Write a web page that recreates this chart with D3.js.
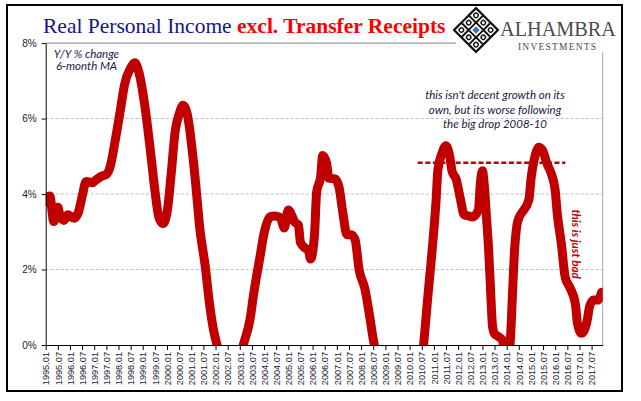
<!DOCTYPE html>
<html><head><meta charset="utf-8">
<script src="https://cdn.jsdelivr.net/npm/d3@7"></script>
<style>body{margin:0;background:#fff} svg{display:block}</style>
</head><body>
<svg id="chart" width="641" height="401"></svg>
<script>
// ---- data ----
const months = ["1995.01","1995.03","1995.05","1995.07","1995.08","1995.10","1995.12","1996.03","1996.05","1996.07","1996.09","1996.12",
"1997.02","1997.05","1997.07","1997.09","1997.11","1998.02","1998.04","1998.07","1998.09","1998.11","1999.02","1999.05","1999.07","1999.09","1999.11",
"2000.01","2000.03","2000.05","2000.07","2000.09","2000.11","2001.02","2001.04","2001.05","2001.08","2001.10","2001.12","2002.02","2002.05","2002.09","2002.12",
"2003.03","2003.06","2003.08","2003.11","2004.01","2004.04","2004.06","2004.09","2004.11","2005.01","2005.03","2005.04","2005.06","2005.07","2005.09","2005.11","2005.12",
"2006.02","2006.03","2006.05","2006.06","2006.08","2006.09","2006.12","2007.02","2007.04","2007.06","2007.08","2007.10","2007.12","2008.03","2008.05","2008.07","2008.09",
"2009.01","2009.05","2009.11","2010.04","2010.08","2010.10","2010.12","2011.02","2011.03","2011.05","2011.07","2011.09","2011.10","2011.12",
"2012.02","2012.04","2012.06","2012.08","2012.11","2012.12","2013.01","2013.02","2013.03","2013.04","2013.05","2013.06","2013.07","2013.09","2013.11","2013.12",
"2014.02","2014.03","2014.04","2014.05","2014.06","2014.07","2014.09","2014.12","2015.01","2015.03","2015.05","2015.07","2015.09","2015.11",
"2016.01","2016.02","2016.04","2016.06","2016.08","2016.11","2016.12","2017.02","2017.03","2017.05","2017.06","2017.08","2017.10","2017.12"];
const values = [3.80,3.95,3.27,3.65,3.45,3.30,3.45,3.36,3.49,3.93,4.33,4.30,
4.38,4.48,4.52,4.75,5.30,6.25,6.90,7.34,7.48,7.25,6.35,5.05,4.10,3.38,3.22,
3.50,4.50,5.65,6.12,6.35,6.12,4.90,3.80,3.20,2.05,1.10,0.40,-0.05,-0.6,-0.9,-0.6,
0.05,0.66,1.40,2.34,2.96,3.40,3.42,3.38,3.10,3.58,3.40,3.27,3.18,2.72,2.58,2.50,2.28,
2.96,4.05,4.46,5.02,4.80,4.42,4.40,4.20,3.49,2.92,2.92,2.80,2.00,1.46,0.84,0.15,-0.4,
-2.5,-4.5,-4.0,-1.8,0.05,1.28,2.43,3.76,4.64,5.08,5.28,4.95,4.60,4.40,
3.90,3.45,3.42,3.39,3.58,4.30,4.62,4.20,3.40,2.60,1.50,0.50,0.30,0.22,0.12,-0.30,
-0.30,0.30,1.50,2.60,3.15,3.36,3.54,3.85,4.38,5.00,5.24,5.13,4.80,4.55,
4.10,3.49,2.70,1.78,1.55,1.08,0.58,0.31,0.35,0.70,1.02,1.19,1.19,1.40];
const tickLabels = ["1995.01","1995.07","1996.01","1996.07","1997.01","1997.07","1998.01","1998.07","1999.01","1999.07",
"2000.01","2000.07","2001.01","2001.07","2002.01","2002.07","2003.01","2003.07","2004.01","2004.07",
"2005.01","2005.07","2006.01","2006.07","2007.01","2007.07","2008.01","2008.07","2009.01","2009.07",
"2010.01","2010.07","2011.01","2011.07","2012.01","2012.07","2013.01","2013.07","2014.01","2014.07",
"2015.01","2015.07","2016.01","2016.07","2017.01","2017.07"];
const yTicks = [0,2,4,6,8];
const refStart = "2010.05", refEnd = "2016.06", refLevel = 4.83;
const noteLines = ["this isn't decent growth on its","own, but its worse following","the big drop  2008-10"];
const unitLines = ["Y/Y % change","6-month MA"];

// ---- helpers ----
const mi = s => { const [yy, mm] = s.split(".").map(Number); return (yy - 1995) * 12 + (mm - 1); };
const data = months.map((m, i) => ({ m: mi(m), v: values[i] }));

const svg = d3.select("#chart");
const X0 = 45.7, X1 = 602.7, Y0 = 345, Y1 = 43.1;
const x = d3.scaleLinear().domain([0, 275.5]).range([X0, X1]);
const y = d3.scaleLinear().domain([0, 8]).range([Y0, Y1]);

// outer frame
svg.append("rect").attr("x", 7).attr("y", 5).attr("width", 615).attr("height", 386)
  .attr("fill", "#fff").attr("stroke", "#000").attr("stroke-width", 2);

// gridlines
svg.append("g").selectAll("line").data([2, 4, 6]).join("line")
  .attr("x1", X0).attr("x2", X1).attr("y1", d => y(d)).attr("y2", d => y(d))
  .attr("stroke", "#bdbdbd").attr("stroke-width", 1).attr("stroke-dasharray", "3,2");
// plot border top/right
svg.append("line").attr("x1", X0).attr("x2", X1).attr("y1", y(8)).attr("y2", y(8)).attr("stroke", "#7f7f7f");
svg.append("line").attr("x1", X1).attr("x2", X1).attr("y1", y(8)).attr("y2", y(0)).attr("stroke", "#a6a6a6");

// clip
svg.append("defs").append("clipPath").attr("id", "clip").append("rect")
  .attr("x", X0).attr("y", Y1 - 10).attr("width", X1 - X0).attr("height", Y0 - Y1 + 10);

// series line
const line = d3.line().x(d => x(d.m)).y(d => y(d.v)).curve(d3.curveMonotoneX);
svg.append("path").datum(data).attr("d", line).attr("clip-path", "url(#clip)")
  .attr("fill", "none").attr("stroke", "#c00000").attr("stroke-width", 9)
  .attr("stroke-linejoin", "round").attr("stroke-linecap", "round");

// reference dashed line
svg.append("line").attr("x1", x(mi(refStart))).attr("x2", x(mi(refEnd)))
  .attr("y1", y(refLevel)).attr("y2", y(refLevel))
  .attr("stroke", "#c00000").attr("stroke-width", 2.6).attr("stroke-dasharray", "5,2.6");

// axes
const ya = svg.append("g").attr("transform", `translate(${X0},0)`)
  .call(d3.axisLeft(y).tickValues(yTicks).tickSize(4).tickSizeOuter(0).tickPadding(5).tickFormat(d => d + "%"));
ya.select(".domain").attr("stroke", "#000");
ya.selectAll(".tick line").attr("stroke", "#000");
ya.selectAll("text").attr("font-family", "Liberation Sans, Arial, sans-serif").attr("font-size", 10).attr("fill", "#1a1a33");

const tickIdx = tickLabels.map(mi);
const xa = svg.append("g").attr("transform", `translate(0,${Y0})`)
  .call(d3.axisBottom(x).tickValues(tickIdx).tickSize(5).tickSizeOuter(0).tickFormat((d, i) => tickLabels[i]));
xa.select(".domain").attr("stroke", "#000");
xa.selectAll(".tick line").attr("stroke", "#000");
xa.selectAll("text").attr("font-family", "Liberation Sans, Arial, sans-serif").attr("font-size", 9.2).attr("fill", "#1a1a33")
  .attr("transform", "rotate(-90)").attr("x", -7).attr("y", 0).attr("dy", "0.35em").attr("text-anchor", "end");

// unit note
svg.append("g").selectAll("text").data(unitLines).join("text")
  .attr("x", 86.5).attr("y", (d, i) => 58 + i * 11.5).attr("text-anchor", "middle")
  .attr("font-family", "Lato, sans-serif").attr("font-style", "italic").attr("font-size", 11.5).attr("fill", "#1a1a40")
  .text(d => d);

// annotation
svg.append("g").selectAll("text").data(noteLines).join("text")
  .attr("x", 495).attr("y", (d, i) => 99 + i * 14.5).attr("text-anchor", "middle")
  .attr("font-family", "Lato, sans-serif").attr("font-style", "italic").attr("font-size", 11.5).attr("fill", "#1a1a40")
  .text(d => d);

svg.append("text").attr("transform", "translate(572,244) rotate(90)").attr("text-anchor", "middle")
  .attr("font-family", "Lato, sans-serif").attr("font-style", "italic").attr("font-weight", "bold").attr("font-size", 11.5).attr("fill", "#c00000")
  .text("this is just bad");

// title
const title = svg.append("text").attr("x", 43).attr("y", 33)
  .attr("font-family", "Liberation Serif, 'Times New Roman', serif").attr("font-size", 21.5);
title.append("tspan").attr("fill", "#14148c").text("Real Personal Income ");
title.append("tspan").attr("fill", "#ff0000").attr("font-weight", "bold").text("excl. Transfer Receipts");

// logo
const logo = svg.append("g");
logo.append("rect").attr("x", 456).attr("y", 6).attr("width", 165).attr("height", 46).attr("fill", "#fff");
const icon = logo.append("g").attr("transform", "translate(476,30) rotate(45)");
const s = 15.5, c = s / 3;
icon.append("rect").attr("x", -s).attr("y", -s).attr("width", 2 * s).attr("height", 2 * s)
  .attr("fill", "none").attr("stroke", "#111").attr("stroke-width", 2.2);
[-c, c].forEach(v => {
  icon.append("line").attr("x1", v).attr("x2", v).attr("y1", -s).attr("y2", s).attr("stroke", "#111").attr("stroke-width", 2);
  icon.append("line").attr("y1", v).attr("y2", v).attr("x1", -s).attr("x2", s).attr("stroke", "#111").attr("stroke-width", 2);
});
[[-2 * c, -2 * c], [0, -2 * c], [2 * c, -2 * c], [-2 * c, 0], [2 * c, 0], [-2 * c, 2 * c], [0, 2 * c], [2 * c, 2 * c]].forEach(([cx, cy]) => {
  icon.append("circle").attr("cx", cx).attr("cy", cy).attr("r", 2.2).attr("fill", "none").attr("stroke", "#111").attr("stroke-width", 1.4);
});
icon.append("rect").attr("x", -c + 1).attr("y", -c + 1).attr("width", 2 * c - 2).attr("height", 2 * c - 2).attr("fill", "#fff");
icon.append("rect").attr("x", -2.6).attr("y", -2.6).attr("width", 5.2).attr("height", 5.2).attr("fill", "#3f73b4");
logo.append("text").attr("x", 500).attr("y", 36).attr("font-family", "Liberation Serif, serif").attr("font-size", 21)
  .attr("fill", "#4a4a4a").attr("textLength", 116).attr("lengthAdjust", "spacingAndGlyphs").text("ALHAMBRA");
logo.append("text").attr("x", 518).attr("y", 50).attr("font-family", "Liberation Serif, serif").attr("font-size", 9.5)
  .attr("fill", "#4a4a4a").attr("textLength", 78).attr("lengthAdjust", "spacing").text("INVESTMENTS");
</script>
</body></html>
